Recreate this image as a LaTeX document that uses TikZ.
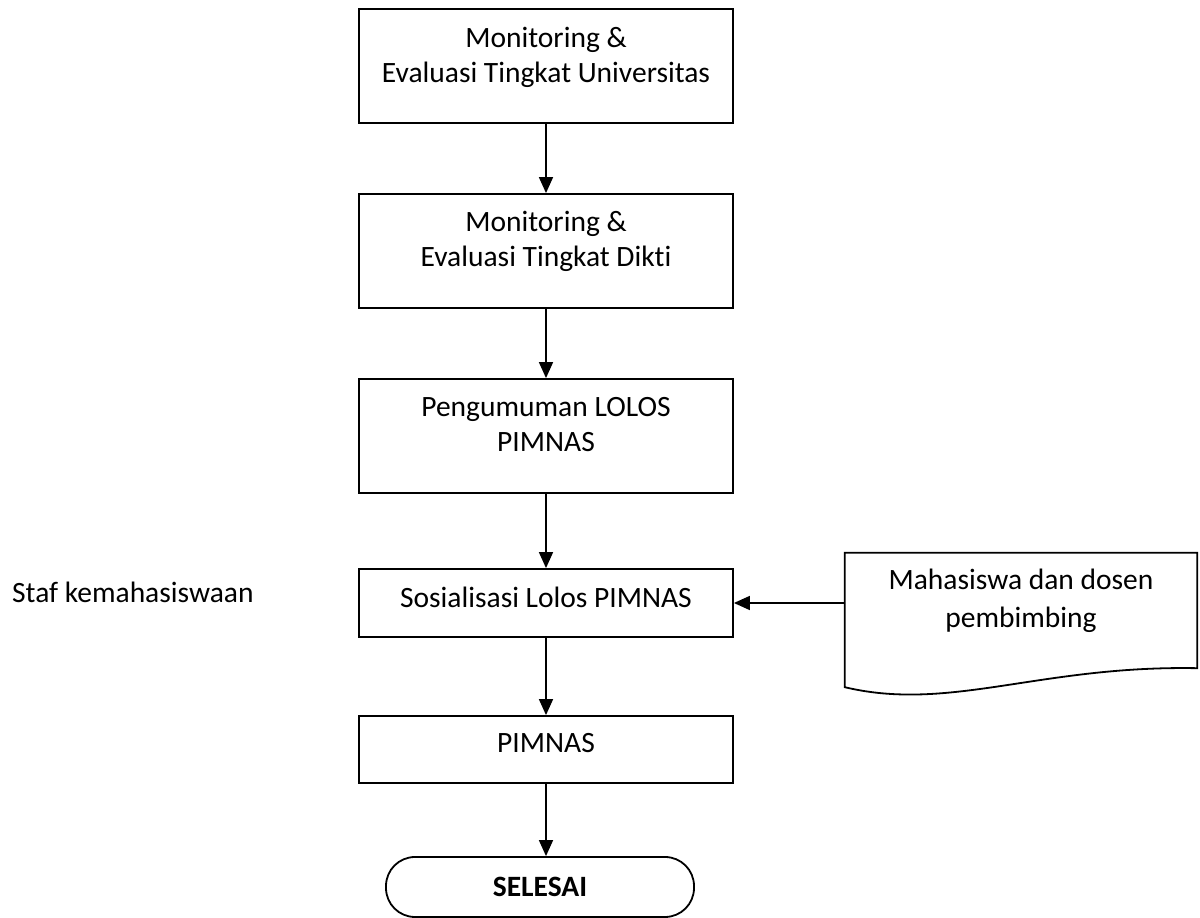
\documentclass[tikz,border=0pt]{standalone}
\usepackage{fontspec}
\setmainfont{Carlito}[Ligatures=NoCommon]
\usetikzlibrary{arrows.meta}
\newcommand\bxt[4]{\parbox[t][#1][t]{#2}{\centering\rule{0pt}{#3}#4}}
\begin{document}
\begin{tikzpicture}[x=1pt,y=1pt,
  box/.style={draw, line width=1.8pt, inner sep=0pt, font=\fontsize{29.5}{35}\selectfont},
  txt/.style={inner sep=0pt, font=\fontsize{29.5}{38}\selectfont},
  term/.style={box, rounded corners=29pt},
  docshape/.style={draw, line width=1.8pt},
  arr/.style={line width=1.6pt, -{Triangle[length=16pt,width=14pt]}}]
\useasboundingbox (0,0) rectangle (1200,918);
\node[box] (b1) at (546,852) {\bxt{114pt}{374pt}{39pt}{Monitoring \&\\Evaluasi Tingkat Universitas}};
\node[box] (b2) at (546,667) {\bxt{114pt}{374pt}{38pt}{Monitoring \&\\Evaluasi Tingkat Dikti}};
\node[box] (b3) at (546,482) {\bxt{114pt}{374pt}{38pt}{Pengumuman LOLOS\\PIMNAS}};
\node[box] (b4) at (546,315) {\bxt{68pt}{374pt}{39pt}{Sosialisasi Lolos PIMNAS}};
\node[box] (b5) at (546,168.5) {\bxt{67pt}{374pt}{37pt}{PIMNAS}};
\node[term] (t) at (540,31) {\bxt{60pt}{308pt}{40pt}{\bfseries SELESAI}};
\node[txt] (doc) at (1021,298) {\bxt{134pt}{352pt}{37pt}{Mahasiswa dan dosen\\pembimbing}};
\node[txt, anchor=base west, font=\fontsize{29.5}{35}\selectfont] (staf) at (12,315) {Staf kemahasiswaan};
\draw[docshape] (doc.south west) -- (doc.north west) -- (doc.north east) -- ([yshift=19pt]doc.south east)
  .. controls ([shift={(195pt,22pt)}]doc.south west) and ([shift={(105pt,-25pt)}]doc.south west) .. (doc.south west) -- cycle;
\draw[arr] (b1.south) -- (b2.north);
\draw[arr] (b2.south) -- (b3.north);
\draw[arr] (b3.south) -- (b4.north);
\draw[arr] (b4.south) -- (b5.north);
\draw[arr] (b5.south) -- (b5.south |- t.north);
\draw[arr] (b4.east -| doc.west) -- (b4.east);
\end{tikzpicture}
\end{document}
